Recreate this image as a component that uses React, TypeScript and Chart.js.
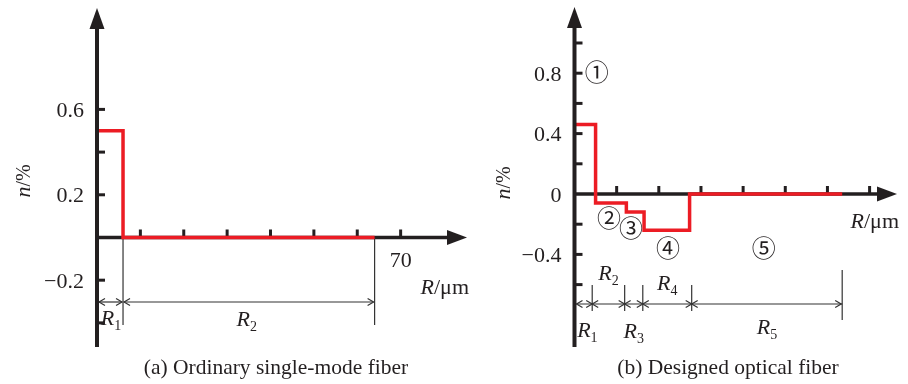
import React, { useEffect, useRef } from "react";
import { Chart, registerables } from "chart.js";

Chart.register(...registerables);

// ---------- data: panel (a) ordinary single-mode fiber ----------
const radiusA = [0, 6, 64];
const deltaA = [0.5, 0, 0];
const yTicksA = [0.6, 0.4, 0.2, -0.2, -0.4];
const yLabelsA = [0.6, 0.2, -0.2];
const xTicksAll = [10, 20, 30, 40, 50, 60, 70];
const xLabelsA = [70];
const dimLabelsA = ["1", "2"];
const captionA = "(a) Ordinary single-mode fiber";

// ---------- data: panel (b) designed optical fiber ----------
const radiusB = [0, 5, 12.3, 16.5, 27.3, 63.5];
const deltaB = [0.46, -0.06, -0.12, -0.24, 0, 0];
const yTicksB = [1.0, 0.8, 0.6, 0.4, 0.2, -0.2, -0.4, -0.6];
const yLabelsB = [0.8, 0.4, 0, -0.4];
const dimMarksB = [0, 4.2, 11.9, 16.2, 27.8, 63.5];
const dimLabelsB = ["1", "2", "3", "4", "5"];
const regionLabelsB = ["\u2460", "\u2461", "\u2462", "\u2463", "\u2464"];
const captionB = "(b) Designed optical fiber";

const FONT = '"Liberation Serif", "Times New Roman", serif';
const INK = "#231f20";
const RED = "#ec1c24";

function fmt(v: number) {
  return v < 0 ? "\u2212" + Math.abs(v) : String(v);
}

type Part = { t: string; font: string; dy?: number };
function rich(ctx: CanvasRenderingContext2D, parts: Part[], x: number, y: number, align: "left" | "center" | "right") {
  let w = 0;
  const ws = parts.map((p) => {
    ctx.font = p.font;
    const m = ctx.measureText(p.t).width;
    w += m;
    return m;
  });
  let cx = align === "center" ? x - w / 2 : align === "right" ? x - w : x;
  ctx.textAlign = "left";
  ctx.textBaseline = "alphabetic";
  parts.forEach((p, i) => {
    ctx.font = p.font;
    ctx.fillText(p.t, cx, y + (p.dy || 0));
    cx += ws[i];
  });
}

function rLabel(ctx: CanvasRenderingContext2D, sub: string, x: number, y: number) {
  rich(ctx, [
    { t: "R", font: `italic 22px ${FONT}` },
    { t: sub, font: `14px ${FONT}`, dy: 5 },
  ], x, y, "center");
}

function seg(ctx: CanvasRenderingContext2D, x1: number, y1: number, x2: number, y2: number) {
  ctx.beginPath();
  ctx.moveTo(x1, y1);
  ctx.lineTo(x2, y2);
  ctx.stroke();
}

function chevron(ctx: CanvasRenderingContext2D, x: number, y: number, d: number) {
  ctx.beginPath();
  ctx.moveTo(x - d * 6, y - 3.5);
  ctx.lineTo(x, y);
  ctx.lineTo(x - d * 6, y + 3.5);
  ctx.stroke();
}

function drawXAxis(chart: any, ticks: number[], labels: number[], rmY: number) {
  const { ctx, scales, chartArea: a } = chart;
  const x = scales.x, y = scales.y;
  const x0 = x.getPixelForValue(0), y0 = y.getPixelForValue(0);
  ctx.save();
  ctx.strokeStyle = INK;
  ctx.fillStyle = INK;
  ctx.lineWidth = 3.5;
  seg(ctx, x0, y0, a.right - 16, y0);
  ctx.beginPath();
  ctx.moveTo(a.right, y0);
  ctx.lineTo(a.right - 20, y0 - 7.5);
  ctx.lineTo(a.right - 20, y0 + 7.5);
  ctx.closePath();
  ctx.fill();
  ctx.lineWidth = 3;
  ticks.forEach((v) => {
    const px = x.getPixelForValue(v);
    seg(ctx, px, y0, px, y0 - 8);
  });
  ctx.font = `22px ${FONT}`;
  ctx.textAlign = "center";
  ctx.textBaseline = "alphabetic";
  labels.forEach((v) => {
    ctx.fillText(fmt(v), x.getPixelForValue(v), y0 + 30);
  });
  rich(ctx, [
    { t: "R", font: `italic 22px ${FONT}` },
    { t: "/\u03bcm", font: `22px ${FONT}` },
  ], a.right + 2, y0 + rmY, "right");
  ctx.restore();
}

function drawYAxis(chart: any, ticks: number[], labels: number[], nX: number, nY: number) {
  const { ctx, scales, chartArea: a } = chart;
  const x = scales.x, y = scales.y;
  const x0 = x.getPixelForValue(0);
  ctx.save();
  ctx.strokeStyle = INK;
  ctx.fillStyle = INK;
  ctx.lineWidth = 4;
  seg(ctx, x0, a.bottom, x0, a.top + 16);
  ctx.beginPath();
  ctx.moveTo(x0, a.top);
  ctx.lineTo(x0 - 7.5, a.top + 21);
  ctx.lineTo(x0 + 7.5, a.top + 21);
  ctx.closePath();
  ctx.fill();
  ctx.lineWidth = 3;
  ticks.forEach((v) => {
    const py = y.getPixelForValue(v);
    seg(ctx, x0, py, x0 + 8, py);
  });
  ctx.font = `22px ${FONT}`;
  ctx.textAlign = "right";
  ctx.textBaseline = "alphabetic";
  labels.forEach((v) => {
    ctx.fillText(fmt(v), x0 - 13, y.getPixelForValue(v) + 7.5);
  });
  // n/% axis title
  ctx.save();
  ctx.translate(nX, nY);
  ctx.rotate(-Math.PI / 2);
  rich(ctx, [
    { t: "n", font: `italic 22px ${FONT}` },
    { t: "/%", font: `20px ${FONT}` },
  ], 0, 7, "center");
  ctx.restore();
  ctx.restore();
}

function caption(chart: any, text: string, cx: number) {
  const ctx = chart.ctx;
  ctx.save();
  ctx.fillStyle = INK;
  ctx.font = `21.5px ${FONT}`;
  ctx.textAlign = "center";
  ctx.textBaseline = "alphabetic";
  ctx.fillText(text, cx, 374);
  ctx.restore();
}

const pluginA = {
  id: "panelA",
  beforeDatasetsDraw(chart: any) {
    drawXAxis(chart, xTicksAll, xLabelsA, 57);
    const { ctx, scales } = chart;
    const x = scales.x, y = scales.y;
    const x0 = x.getPixelForValue(0), y0 = y.getPixelForValue(0);
    ctx.save();
    ctx.strokeStyle = "#333";
    ctx.fillStyle = INK;
    ctx.lineWidth = 1.2;
    const yd = 302;
    const b1 = x.getPixelForValue(radiusA[1]);
    const b2 = x.getPixelForValue(radiusA[2]);
    seg(ctx, b1, y0, b1, 325);
    seg(ctx, b2, y0, b2, 325);
    seg(ctx, x0 + 2, yd, b1 - 1, yd);
    seg(ctx, b1 + 1, yd, b2 - 1, yd);
    chevron(ctx, x0 + 2, yd, -1);
    chevron(ctx, b1 - 1, yd, 1);
    chevron(ctx, b1 + 1, yd, -1);
    chevron(ctx, b2 - 1, yd, 1);
    rLabel(ctx, dimLabelsA[0], (x0 + b1) / 2 + 1, 325);
    rLabel(ctx, dimLabelsA[1], (b1 + b2) / 2 - 2, 326);
    ctx.restore();
    caption(chart, captionA, 276);
  },
  afterDatasetsDraw(chart: any) {
    drawYAxis(chart, yTicksA, yLabelsA, 23, 181);
  },
};

const regionPos = [
  [5.3, 0.81],
  [8.2, -0.16],
  [13.4, -0.225],
  [22.2, -0.36],
  [44.9, -0.36],
];

const pluginB = {
  id: "panelB",
  beforeDatasetsDraw(chart: any) {
    drawXAxis(chart, xTicksAll, [], 34);
    const { ctx, scales } = chart;
    const x = scales.x, y = scales.y;
    ctx.save();
    ctx.strokeStyle = "#333";
    ctx.fillStyle = INK;
    ctx.lineWidth = 1.2;
    const yd = 304;
    const px = dimMarksB.map((v) => x.getPixelForValue(v));
    seg(ctx, px[0] + 2, yd, px[px.length - 1], yd);
    chevron(ctx, px[0] + 2, yd, -1);
    for (let i = 1; i < px.length - 1; i++) {
      seg(ctx, px[i], 285, px[i], 311);
      chevron(ctx, px[i], yd, 1);
      chevron(ctx, px[i], yd, -1);
    }
    const last = px[px.length - 1];
    seg(ctx, last, 270, last, 320);
    chevron(ctx, last - 1, yd, 1);
    const baseY = [337, 280, 338, 290, 334];
    for (let i = 0; i < dimLabelsB.length; i++) {
      rLabel(ctx, dimLabelsB[i], (px[i] + px[i + 1]) / 2 + (i === 0 ? 4 : 0), baseY[i]);
    }
    // region numbers
    ctx.font = `24px "Noto Sans CJK SC", "DejaVu Sans", sans-serif`;
    ctx.textAlign = "center";
    ctx.textBaseline = "middle";
    regionLabelsB.forEach((t, i) => {
      ctx.fillText(t, x.getPixelForValue(regionPos[i][0]), y.getPixelForValue(regionPos[i][1]));
    });
    ctx.restore();
    caption(chart, captionB, 728);
  },
  afterDatasetsDraw(chart: any) {
    drawYAxis(chart, yTicksB, yLabelsB, 503, 183);
  },
};

function makeChart(canvas: HTMLCanvasElement, radius: number[], delta: number[], xMax: number, yMin: number, yMax: number, pad: any, plugin: any) {
  return new Chart(canvas, {
    type: "line",
    data: {
      datasets: [
        {
          data: radius.map((r, i) => ({ x: r, y: delta[i] })),
          borderColor: RED,
          borderWidth: 3.5,
          pointRadius: 0,
          stepped: "before",
          fill: false,
          borderJoinStyle: "miter",
        } as any,
      ],
    },
    options: {
      responsive: false,
      animation: false,
      devicePixelRatio: 1,
      layout: { padding: pad },
      plugins: { legend: { display: false }, tooltip: { enabled: false }, title: { display: false } },
      scales: {
        x: { type: "linear", min: 0, max: xMax, display: false },
        y: { type: "linear", min: yMin, max: yMax, display: false },
      },
    },
    plugins: [plugin],
  });
}

export default function App() {
  const refA = useRef<HTMLCanvasElement>(null);
  const refB = useRef<HTMLCanvasElement>(null);
  useEffect(() => {
    document.body.style.margin = "0";
    const a = makeChart(refA.current!, radiusA, deltaA, 85.3, -0.513, 1.075,
      { left: 97, right: 908 - 467, top: 8, bottom: 384 - 347 }, pluginA);
    const b = makeChart(refB.current!, radiusB, deltaB, 76.5, -1.0132, 1.2384,
      { left: 574.5, right: 908 - 897, top: 7, bottom: 384 - 347 }, pluginB);
    return () => {
      a.destroy();
      b.destroy();
    };
  }, []);
  const cs: React.CSSProperties = { position: "absolute", left: 0, top: 0, width: 908, height: 384 };
  return (
    <div style={{ position: "fixed", left: 0, top: 0, width: 908, height: 384, background: "#fff" }}>
      <canvas ref={refA} width={908} height={384} style={cs} />
      <canvas ref={refB} width={908} height={384} style={cs} />
    </div>
  );
}
